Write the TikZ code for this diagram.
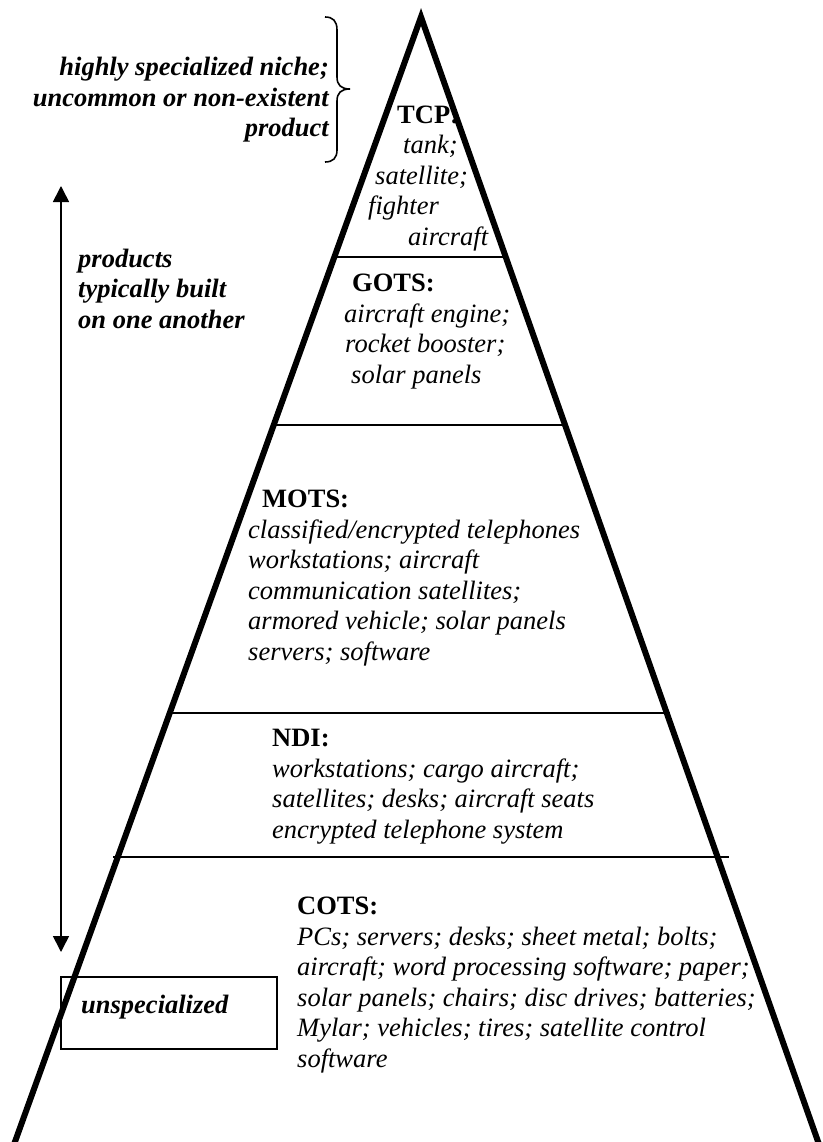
\documentclass[tikz,border=0pt]{standalone}
\usepackage{fontspec}
\setmainfont{Liberation Serif}
\usetikzlibrary{arrows.meta}
\begin{document}
\begin{tikzpicture}[x=1pt,y=-1pt,
  txt/.style={inner sep=0pt, anchor=base west, align=left, font=\fontsize{26.5}{30.5}\selectfont},
  side/.style={inner sep=0pt, font=\fontsize{26.5}{30.5}\selectfont\bfseries\itshape},
  edge/.style={line width=6pt, line join=miter, line cap=butt},
  divider/.style={line width=2pt},
  thinline/.style={line width=1.6pt}]
\useasboundingbox (0,0) rectangle (822,1142);
% pyramid
\coordinate (apex) at (421,17);
\coordinate (bl) at (12,1150);
\coordinate (br) at (821,1150);
\draw[edge] (bl) -- (apex) -- (br);
% dividers
\coordinate (d1l) at (335,257); \coordinate (d1r) at (507,257);
\coordinate (d2l) at (276,425); \coordinate (d2r) at (566,425);
\coordinate (d3l) at (171,713); \coordinate (d3r) at (670,713);
\coordinate (d4l) at (113,857); \coordinate (d4r) at (729,857);
\draw[divider] (d1l) -- (d1r);
\draw[divider] (d2l) -- (d2r);
\draw[divider] (d3l) -- (d3r);
\draw[divider] (d4l) -- (d4r);
% tier texts (anchored at the baseline of their last line)
\node[txt] (tcp) at (368,245) {\hspace*{29pt}\textbf{TCP:}\\\hspace*{35pt}\textit{tank;}\\\hspace*{7pt}\textit{satellite;}\\\textit{fighter}\\\hspace*{40pt}\textit{aircraft}};
\node[txt] (gots) at (344,383) {\hspace*{8pt}\textbf{GOTS:}\\\textit{aircraft engine;}\\\hspace*{1pt}\textit{rocket booster;}\\\hspace*{7pt}\textit{solar panels}};
\node[txt] (mots) at (248,660) {\hspace*{14pt}\textbf{MOTS:}\\\textit{classified/encrypted telephones}\\\textit{workstations; aircraft}\\\textit{communication satellites;}\\\textit{armored vehicle; solar panels}\\\textit{servers; software}};
\node[txt] (ndi) at (272,838) {\textbf{NDI:}\\\textit{workstations; cargo aircraft;}\\\textit{satellites; desks; aircraft seats}\\\textit{encrypted telephone system}};
\node[txt] (cots) at (297,1067) {\textbf{COTS:}\\\textit{PCs; servers; desks; sheet metal; bolts;}\\\textit{aircraft; word processing software; paper;}\\\textit{solar panels; chairs; disc drives; batteries;}\\\textit{Mylar; vehicles; tires; satellite control}\\\textit{software}};
% side notes
\node[side, anchor=base east, align=right] (niche) at (329,137) {highly specialized niche;\\uncommon or non-existent\\product};
\node[side, anchor=base west, align=left] (built) at (78,328) {products\\typically built\\on one another};
% brace
\coordinate (bt) at (325,17);
\coordinate (bm) at (350,89);
\coordinate (bb) at (325,162);
\draw[thinline] (bt) .. controls (333,17) and (337,21) .. (337,30) -- (337,77)
  .. controls (337,85) and (341,89) .. (bm)
  .. controls (341,89) and (337,93) .. (337,101) -- (337,150)
  .. controls (337,158) and (333,162) .. (bb);
% arrow
\coordinate (atop) at (61,186);
\coordinate (abot) at (61,952);
\draw[thinline, {Triangle[width=16pt,length=16pt]}-{Triangle[width=16pt,length=16pt]}] (atop) -- (abot);
% unspecialized box
\node[draw, thinline, minimum width=216pt, minimum height=72pt, inner sep=0pt] (box) at (169,1013) {};
\node[side, anchor=base west] (unspec) at (81,1013) {unspecialized};
\end{tikzpicture}
\end{document}
